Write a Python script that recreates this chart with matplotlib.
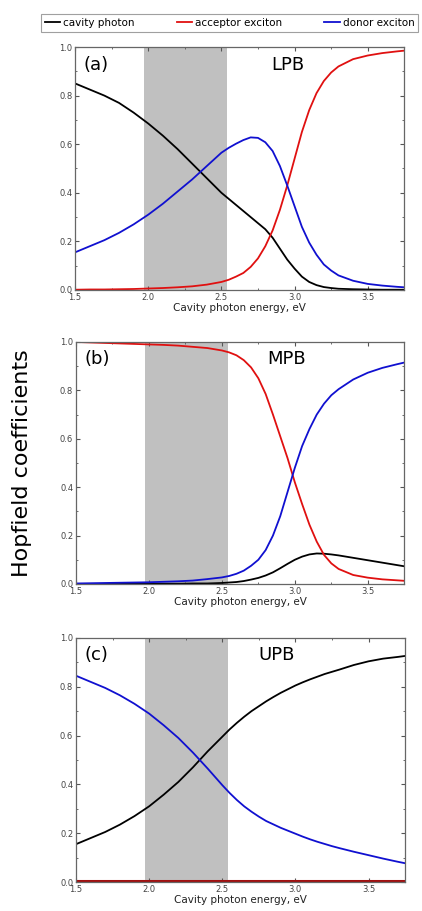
import matplotlib
matplotlib.use("Agg")
import matplotlib.pyplot as plt
from matplotlib.ticker import MultipleLocator

energy = [1.5, 1.6, 1.7, 1.8, 1.9, 2.0, 2.1, 2.2, 2.3, 2.4, 2.5, 2.55, 2.6, 2.65,
          2.7, 2.75, 2.8, 2.85, 2.9, 2.95, 3.0, 3.05, 3.1, 3.15, 3.2, 3.25, 3.3,
          3.4, 3.5, 3.6, 3.7, 3.75]

# (a) LPB
lpb_photon = [0.85, 0.825, 0.80, 0.77, 0.73, 0.685, 0.635, 0.58, 0.52, 0.46, 0.40, 0.375,
              0.35, 0.325, 0.30, 0.275, 0.25, 0.215, 0.17, 0.125, 0.088, 0.055, 0.033,
              0.02, 0.012, 0.008, 0.005, 0.003, 0.002, 0.001, 0.001, 0.001]
lpb_acceptor = [0.001, 0.002, 0.002, 0.003, 0.004, 0.006, 0.008, 0.011, 0.015, 0.022, 0.033,
                0.042, 0.055, 0.07, 0.095, 0.13, 0.18, 0.245, 0.33, 0.43, 0.54, 0.65, 0.74,
                0.81, 0.86, 0.895, 0.92, 0.95, 0.965, 0.975, 0.982, 0.985]
lpb_donor = [0.155, 0.18, 0.205, 0.235, 0.27, 0.31, 0.355, 0.405, 0.455, 0.51, 0.565, 0.585,
             0.602, 0.617, 0.628, 0.626, 0.608, 0.572, 0.51, 0.43, 0.345, 0.26, 0.195, 0.145,
             0.105, 0.08, 0.06, 0.038, 0.025, 0.018, 0.013, 0.011]

# (b) MPB
mpb_photon = [0.0, 0.0, 0.0, 0.0, 0.001, 0.001, 0.001, 0.001, 0.002, 0.002, 0.004, 0.006,
              0.008, 0.012, 0.018, 0.025, 0.035, 0.048, 0.065, 0.083, 0.10, 0.113, 0.122,
              0.126, 0.125, 0.122, 0.118, 0.108, 0.098, 0.088, 0.078, 0.073]
mpb_acceptor = [1.0, 0.998, 0.996, 0.994, 0.992, 0.99, 0.988, 0.985, 0.98, 0.975, 0.965,
                0.957, 0.945, 0.925, 0.895, 0.85, 0.785, 0.70, 0.61, 0.52, 0.42, 0.33, 0.245,
                0.175, 0.12, 0.085, 0.062, 0.037, 0.026, 0.019, 0.015, 0.013]
mpb_donor = [0.002, 0.003, 0.004, 0.005, 0.006, 0.007, 0.009, 0.011, 0.014, 0.02, 0.027,
             0.033, 0.042, 0.055, 0.075, 0.10, 0.14, 0.20, 0.28, 0.38, 0.48, 0.57, 0.64,
             0.70, 0.745, 0.78, 0.805, 0.845, 0.873, 0.893, 0.908, 0.915]

# (c) UPB
upb_photon = [0.155, 0.18, 0.205, 0.235, 0.27, 0.31, 0.358, 0.41, 0.47, 0.535, 0.595, 0.625,
              0.652, 0.677, 0.70, 0.72, 0.74, 0.758, 0.775, 0.79, 0.805, 0.818, 0.83, 0.841,
              0.852, 0.861, 0.87, 0.889, 0.904, 0.915, 0.922, 0.926]
upb_acceptor = [0.003] * len(energy)
upb_donor = [0.845, 0.82, 0.795, 0.765, 0.73, 0.69, 0.642, 0.59, 0.53, 0.465, 0.397, 0.365,
             0.336, 0.31, 0.288, 0.268, 0.25, 0.236, 0.222, 0.21, 0.198, 0.186, 0.175, 0.165,
             0.156, 0.147, 0.139, 0.124, 0.11, 0.096, 0.083, 0.077]

band = (1.97, 2.54)
panels = [("(a)", "LPB", 0.645, lpb_photon, lpb_acceptor, lpb_donor),
          ("(b)", "MPB", 0.64, mpb_photon, mpb_acceptor, mpb_donor),
          ("(c)", "UPB", 0.61, upb_photon, upb_acceptor, upb_donor)]
positions = [[0.178, 0.6817, 0.78, 0.2667],
             [0.180, 0.359, 0.778, 0.2656],
             [0.180, 0.0318, 0.780, 0.268]]

fig = plt.figure(figsize=(4.22, 9.11), dpi=100)

for (tag, name, name_x, ph, acc, don), pos in zip(panels, positions):
    ax = fig.add_axes(pos)
    ax.axvspan(band[0], band[1], color="#c0c0c0", lw=0, zorder=0)
    ax.plot(energy, ph, color="black", lw=1.3, label="cavity photon")
    if name == "UPB":
        ax.plot(energy, acc, color="#a01010", lw=2.2, label="acceptor exciton")
    else:
        ax.plot(energy, acc, color="#e01010", lw=1.3, label="acceptor exciton")
    ax.plot(energy, don, color="#1010d0", lw=1.3, label="donor exciton")
    ax.set_xlim(1.5, 3.75)
    ax.set_ylim(0, 1.0)
    ax.xaxis.set_major_locator(MultipleLocator(0.5))
    ax.xaxis.set_minor_locator(MultipleLocator(0.25))
    ax.yaxis.set_major_locator(MultipleLocator(0.2))
    ax.yaxis.set_minor_locator(MultipleLocator(0.1))
    ax.xaxis.set_major_formatter(plt.FormatStrFormatter("%.1f"))
    ax.yaxis.set_major_formatter(plt.FormatStrFormatter("%.1f"))
    ax.tick_params(which="both", direction="in", top=True, right=True,
                   labelsize=6, labelcolor="#444444", color="#555555", pad=2)
    ax.tick_params(which="major", length=3)
    ax.tick_params(which="minor", length=1.5)
    for s in ax.spines.values():
        s.set_color("#666666")
        s.set_linewidth(0.9)
    ax.set_xlabel("Cavity photon energy, eV", fontsize=7.5, color="#222222", labelpad=1)
    ax.text(0.025, 0.965, tag, transform=ax.transAxes, fontsize=13, va="top", ha="left")
    ax.text(name_x, 0.965, name, transform=ax.transAxes, fontsize=13, va="top", ha="center")
    if name == "LPB":
        handles, labels = ax.get_legend_handles_labels()

leg = fig.legend(handles, labels, loc="upper left", bbox_to_anchor=(0.085, 0.99),
                 ncol=3, fontsize=7.5, frameon=True, fancybox=False,
                 edgecolor="#888888", handlelength=1.5, handletextpad=0.3,
                 columnspacing=4.0, borderpad=0.35)
leg.get_frame().set_linewidth(0.8)

fig.text(0.052, 0.492, "Hopfield coefficients", rotation=90, fontsize=16,
         va="center", ha="center")

fig.savefig("out.png", dpi=100)
